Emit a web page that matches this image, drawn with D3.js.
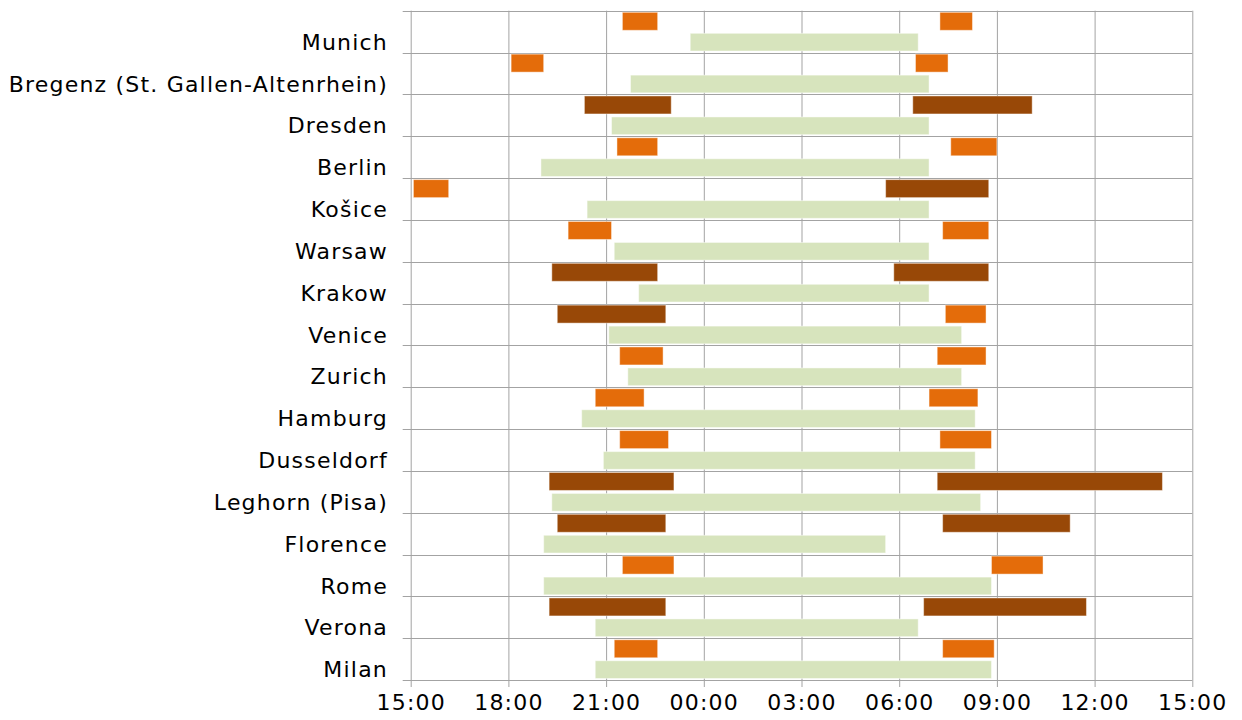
<!DOCTYPE html>
<html>
<head>
<meta charset="utf-8">
<script src="https://cdn.jsdelivr.net/npm/d3@7"></script>
<style>
  html, body { margin: 0; padding: 0; background: #ffffff; }
  svg { display: block; }
  text { font-family: "DejaVu Sans", Verdana, sans-serif; fill: #000; }
</style>
</head>
<body>
<svg id="chart" width="1242" height="720"></svg>
<script>
// ---- data ----
const cities = ["Munich", "Bregenz (St. Gallen-Altenrhein)", "Dresden", "Berlin", "Košice", "Warsaw",
  "Krakow", "Venice", "Zurich", "Hamburg", "Dusseldorf", "Leghorn (Pisa)", "Florence", "Rome", "Verona", "Milan"];

const travelStart = ["23:35", "21:45", "21:10", "19:00", "20:25", "21:15", "22:00", "21:05", "21:40", "20:15", "20:55", "19:20", "19:05", "19:05", "20:40", "20:40"];
const travelEnd   = ["06:35", "06:55", "06:55", "06:55", "06:55", "06:55", "06:55", "07:55", "07:55", "08:20", "08:20", "08:30", "05:35", "08:50", "06:35", "08:50"];

const eveningStart = ["21:30", "18:05", "20:20", "21:20", "15:05", "19:50", "19:20", "19:30", "21:25", "20:40", "21:25", "19:15", "19:30", "21:30", "19:15", "21:15"];
const eveningEnd   = ["22:35", "19:05", "23:00", "22:35", "16:10", "21:10", "22:35", "22:50", "22:45", "22:10", "22:55", "23:05", "22:50", "23:05", "22:50", "22:35"];
const eveningKind  = ["o", "o", "b", "o", "o", "o", "b", "b", "o", "o", "o", "b", "b", "o", "b", "o"];

const morningStart = ["07:15", "06:30", "06:25", "07:35", "05:35", "07:20", "05:50", "07:25", "07:10", "06:55", "07:15", "07:10", "07:20", "08:50", "06:45", "07:20"];
const morningEnd   = ["08:15", "07:30", "10:05", "09:00", "08:45", "08:45", "08:45", "08:40", "08:40", "08:25", "08:50", "14:05", "11:15", "10:25", "11:45", "08:55"];
const morningKind  = ["o", "o", "b", "o", "b", "o", "b", "o", "o", "o", "o", "b", "b", "o", "b", "o"];

const tickHours = [15, 18, 21, 24, 27, 30, 33, 36, 39];

// ---- drawing ----
const colors = { o: "#E46C0A", b: "#984807", g: "#D7E4BD" };
const toHours = s => { const [h, m] = s.split(":").map(Number); let v = h + m / 60; if (v < 15) v += 24; return v; };

const svg = d3.select("#chart");
const plot = { left: 410.7, right: 1192.3, top: 10.7, bottom: 680 };

const x = d3.scaleLinear().domain([15, 39]).range([plot.left, plot.right]);
const y = d3.scaleBand().domain(cities).range([plot.top, plot.bottom]).paddingInner(0).paddingOuter(0);
const gridColor = "#A3A3A3";

// vertical gridlines + bottom axis
const xAxis = d3.axisBottom(x).tickValues(tickHours)
  .tickFormat(h => String(h % 24).padStart(2, "0") + ":00")
  .tickSize(-(plot.bottom - plot.top)).tickSizeOuter(0).tickPadding(14);
const gx = svg.append("g").attr("transform", `translate(0,${plot.bottom})`).call(xAxis);
gx.select(".domain").remove();
gx.selectAll(".tick line").attr("stroke", gridColor).attr("y2", -(plot.bottom - plot.top)).attr("y1", 7);
gx.selectAll(".tick text").attr("font-size", 22).attr("letter-spacing", "1.2px")
  .attr("font-family", "DejaVu Sans, Verdana, sans-serif").attr("fill", "#000");

// horizontal gridlines (row boundaries) with small left ticks
const boundaries = cities.map(c => y(c)).concat([plot.bottom]);
svg.append("g").selectAll("line").data(boundaries).join("line")
  .attr("x1", plot.left - 8).attr("x2", plot.right)
  .attr("y1", d => Math.round(d) + 0.5).attr("y2", d => Math.round(d) + 0.5)
  .attr("stroke", gridColor).attr("stroke-width", 1);

// bars
const rows = cities.map((c, i) => ({ c, i }));
const barStroke = "rgba(255,255,255,0.45)";

svg.append("g").selectAll("rect").data(rows).join("rect")
  .attr("x", d => x(toHours(travelStart[d.i])))
  .attr("width", d => x(toHours(travelEnd[d.i])) - x(toHours(travelStart[d.i])))
  .attr("y", d => y(d.c) + 22.6).attr("height", 17.7)
  .attr("fill", colors.g).attr("stroke", barStroke).attr("stroke-width", 1);

svg.append("g").selectAll("rect").data(rows).join("rect")
  .attr("x", d => x(toHours(eveningStart[d.i])))
  .attr("width", d => x(toHours(eveningEnd[d.i])) - x(toHours(eveningStart[d.i])))
  .attr("y", d => y(d.c) + 1.6).attr("height", 18)
  .attr("fill", d => colors[eveningKind[d.i]]).attr("stroke", barStroke).attr("stroke-width", 1);

svg.append("g").selectAll("rect").data(rows).join("rect")
  .attr("x", d => x(toHours(morningStart[d.i])))
  .attr("width", d => x(toHours(morningEnd[d.i])) - x(toHours(morningStart[d.i])))
  .attr("y", d => y(d.c) + 1.6).attr("height", 18)
  .attr("fill", d => colors[morningKind[d.i]]).attr("stroke", barStroke).attr("stroke-width", 1);

// category labels
svg.append("g").selectAll("text").data(rows).join("text")
  .attr("x", 388).attr("y", d => y(d.c) + 31.5)
  .attr("text-anchor", "end").attr("dominant-baseline", "central")
  .attr("font-size", 22).attr("letter-spacing", "1.2px")
  .text(d => d.c);
</script>
</body>
</html>
